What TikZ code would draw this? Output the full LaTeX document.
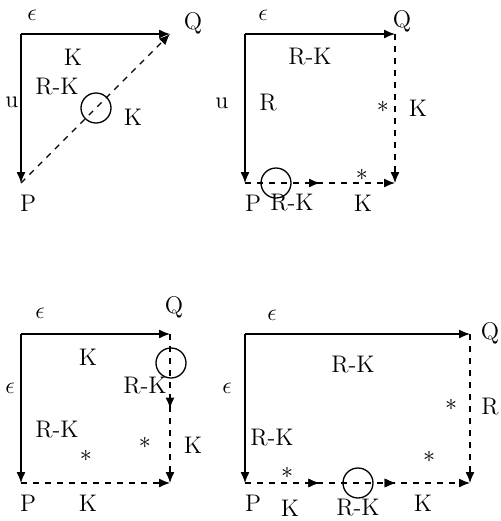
\documentclass[tikz,border=0pt]{standalone}
\usepackage{amsmath}
\usetikzlibrary{arrows.meta,decorations.markings}
\tikzset{
  ar/.style={-{Latex[length=5.5pt,width=4.5pt]},line width=0.65pt},
  dar/.style={ar,dashed},
  midar/.style={postaction={decorate},decoration={markings,mark=at position #1 with {\arrow{Latex[length=5.5pt,width=4.5pt]}}}},
  ring/.style={draw,circle,minimum size=15pt,inner sep=0pt,line width=0.65pt},
  lbl/.style={inner sep=0pt},
}
\begin{document}
\begin{tikzpicture}[x=0.5pt,y=-0.5pt,font=\large]
\useasboundingbox (0,0) rectangle (500,521);
% corners of the four squares
\foreach \n/\l/\r/\t/\b in {A/21/170/34/183, B/245/395/34/183, C/21/170/334/483, D/245/470/334/483} {
  \coordinate (O\n) at (\l,\t);
  \coordinate (Q\n) at (\r,\t);
  \coordinate (P\n) at (\l,\b);
  \coordinate (S\n) at (\r,\b);
}
% panel A
\draw[ar] (OA) -- (QA);
\draw[ar] (OA) -- (PA);
\draw[dar] (PA) -- (QA);
\node[ring] (cA) at (96,108) {};
\node[lbl] (eA) at (32,15) {$\epsilon$};
\node[lbl] (qA) at (193,23) {Q};
\node[lbl] (uA) at (12,102) {u};
\node[lbl] (pA) at (28,203) {P};
\node[lbl] (kA1) at (73,57) {K};
\node[lbl] (rkA) at (57,87) {R-K};
\node[lbl] (kA2) at (133,117) {K};
% panel B
\draw[ar] (OB) -- (QB);
\draw[ar] (OB) -- (PB);
\draw[dar] (QB) -- (SB);
\draw[dar,midar=0.5] (PB) -- (SB);
\node[ring] (cB) at (276,183) {};
\node[lbl] (eB) at (263,15) {$\epsilon$};
\node[lbl] (qB) at (402,21) {Q};
\node[lbl] (uB) at (222,103) {u};
\node[lbl] (rB) at (268,103) {R};
\node[lbl] (rkB1) at (310,57) {R-K};
\node[lbl] (sB1) at (383,107) {$*$};
\node[lbl] (kB1) at (418,108) {K};
\node[lbl] (sB2) at (362,175) {$*$};
\node[lbl] (pB) at (253,203) {P};
\node[lbl] (rkB2) at (292,203) {R-K};
\node[lbl] (kB2) at (363,203) {K};
% panel C
\draw[ar] (OC) -- (QC);
\draw[ar] (OC) -- (PC);
\draw[dar,midar=0.5] (QC) -- (SC);
\draw[dar] (PC) -- (SC);
\node[ring] (cC) at (171,363) {};
\node[lbl] (eC1) at (40,313) {$\epsilon$};
\node[lbl] (eC2) at (10,388) {$\epsilon$};
\node[lbl] (qC) at (174,307) {Q};
\node[lbl] (kC1) at (88,357) {K};
\node[lbl] (rkC1) at (145,386) {R-K};
\node[lbl] (rkC2) at (57,430) {R-K};
\node[lbl] (sC1) at (86,456) {$*$};
\node[lbl] (sC2) at (145,443) {$*$};
\node[lbl] (kC2) at (193,445) {K};
\node[lbl] (pC) at (28,503) {P};
\node[lbl] (kC3) at (88,503) {K};
% panel D
\draw[ar] (OD) -- (QD);
\draw[ar] (OD) -- (PD);
\draw[dar] (QD) -- (SD);
\draw[dar,midar=0.33,midar=0.67] (PD) -- (SD);
\node[ring] (cD) at (358,483) {};
\node[lbl] (eD1) at (272,315) {$\epsilon$};
\node[lbl] (eD2) at (227,388) {$\epsilon$};
\node[lbl] (qD) at (490,333) {Q};
\node[lbl] (rkD1) at (353,365) {R-K};
\node[lbl] (sD1) at (451,405) {$*$};
\node[lbl] (rD) at (490,407) {R};
\node[lbl] (rkD2) at (272,438) {R-K};
\node[lbl] (sD2) at (429,457) {$*$};
\node[lbl] (sD3) at (287,473) {$*$};
\node[lbl] (pD) at (253,503) {P};
\node[lbl] (kD1) at (290,508) {K};
\node[lbl] (rkD3) at (358,508) {R-K};
\node[lbl] (kD2) at (423,503) {K};
\end{tikzpicture}
\end{document}
